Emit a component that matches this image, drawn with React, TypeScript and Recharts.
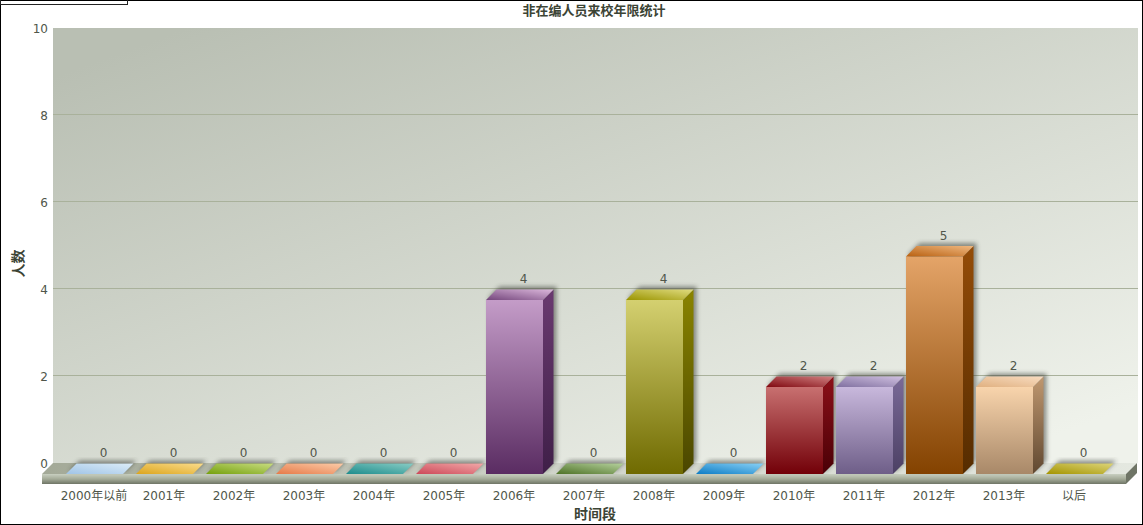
import React from 'react';
import { BarChart, Bar, XAxis, YAxis, CartesianGrid, LabelList, Cell } from 'recharts';

const categories = ['2000年以前','2001年','2002年','2003年','2004年','2005年','2006年','2007年','2008年','2009年','2010年','2011年','2012年','2013年','以后'];
const values = [0,0,0,0,0,0,4,0,4,0,2,2,5,2,0];
const yTicks = [0,2,4,6,8,10];
const title = '非在编人员来校年限统计';
const xTitle = '时间段';
const yTitle = '人数';

// palette: [front top, front bottom, side top, side bottom, top-face left, top-face right]
const palette = [
  ['#c8dcf0','#a8c8e8','#8ab0d8','#6a90b8','#a0c4e6','#dcecf8'],
  ['#f0c860','#e0a820','#c09020','#906810','#dca51c','#fbdc8c'],
  ['#a0c040','#78a010','#608010','#406008','#74a00c','#c8dc80'],
  ['#f8b080','#e88050','#c06030','#904020','#e67a48','#fbcba8'],
  ['#50b0a8','#209090','#107070','#085050','#1c8c8c','#88ccc4'],
  ['#e08088','#d05060','#a03040','#702030','#cc4858','#f2a8a8'],
  ['#c49cc8','#5a2c62','#6a3a70','#3f1f48','#74467c','#dcb8dc'],
  ['#80a060','#5c8030','#486828','#304818','#4e7226','#b4d09c'],
  ['#d4d070','#6f6a00','#8a8400','#4a4600','#9a9400','#e0dc80'],
  ['#40a0e0','#1080c8','#0860a0','#044878','#0c7cc4','#88d0f6'],
  ['#c87070','#720008','#8c1018','#4a0006','#800810','#d08080'],
  ['#c8b8dc','#6e5e88','#7a6a98','#4c4064','#8070a0','#d0c0e0'],
  ['#e4a468','#834200','#944c08','#552c00','#b86010','#f0b880'],
  ['#f8d4ac','#a88868','#c09870','#604830','#e0b080','#f8dcc0'],
  ['#c0b030','#a89800','#887800','#605800','#a49400','#dcd478'],
];

const rows = categories.map((name, i) => ({ name, value: values[i] }));

const D = 10.5;
const TXT = '#50564a';
const HEAD = '#3c4435';
const FONT = '"DejaVu Sans","Noto Sans CJK SC",sans-serif';
const CJK = '"Noto Sans CJK SC",sans-serif';

const Bar3D = (props: any) => {
  const { x, y, width, height, index } = props;
  const b = y + height;
  const r = x + width;
  const sil = `${x},${y} ${x + D},${y - D} ${r + D},${y - D} ${r + D},${b - D} ${r},${b} ${x},${b}`;
  return (
    <g>
      <polygon points={sil} transform="translate(3,-3)" fill="#2e3329" opacity={0.5} filter="url(#soft)" />
      {height > 0 && <rect x={x} y={y} width={width} height={height} fill={`url(#f${index})`} />}
      {height > 0 && <polygon points={`${r},${y} ${r + D},${y - D} ${r + D},${b - D} ${r},${b}`} fill={`url(#s${index})`} />}
      <polygon points={`${x},${y} ${x + D},${y - D} ${r + D},${y - D} ${r},${y}`} fill={`url(#t${index})`} />
    </g>
  );
};

const YTick = (props: any) => (
  <text x={48} y={props.y - D} dy={4} textAnchor="end" fontFamily={FONT} fontSize={12} fill={TXT}>{props.payload.value}</text>
);

const valueLabel = (props: any) => (
  <text x={props.x + props.width / 2 + 9} y={props.y - 21} dy={4} textAnchor="middle" fontFamily={FONT} fontSize={12} fill={TXT}>{props.value}</text>
);

const gridLine = (props: any) => (
  props.y1 > 40 && props.y1 < 470
    ? <line key={props.y1} x1={53} x2={1138} y1={props.y1 - 11.5} y2={props.y1 - 11.5} stroke="#a9b19b" strokeWidth={1} />
    : <g key={props.y1} />
);

export default function App() {
  return (
    <div style={{ position: 'absolute', left: 0, top: 0, width: 1143, height: 525, background: '#fff', overflow: 'hidden' }}>
      <BarChart width={1143} height={525} data={rows} barSize={57} margin={{ top: 39, right: 17, bottom: 0, left: 0 }}>
        <defs>
          <filter id="soft" x="-30%" y="-30%" width="160%" height="160%"><feGaussianBlur stdDeviation="2.2" /></filter>
          <linearGradient id="wall" gradientUnits="userSpaceOnUse" x1="100" y1="60" x2="335" y2="700">
            <stop offset="0" stopColor="#b9bfb3" />
            <stop offset="1" stopColor="#eff2eb" />
          </linearGradient>
          <linearGradient id="floorTop" x1="0" y1="0" x2="1" y2="0">
            <stop offset="0" stopColor="#a3a997" />
            <stop offset="0.45" stopColor="#cfd3c9" />
            <stop offset="1" stopColor="#e4e8e0" />
          </linearGradient>
          <linearGradient id="floorFront" x1="0" y1="0" x2="0" y2="1">
            <stop offset="0" stopColor="#c8cfc0" />
            <stop offset="0.5" stopColor="#a4ab98" />
            <stop offset="1" stopColor="#6f7566" />
          </linearGradient>
          {palette.map((p, i) => (
            <React.Fragment key={i}>
              <linearGradient id={`f${i}`} x1="0" y1="0" x2="0" y2="1"><stop offset="0" stopColor={p[0]} /><stop offset="1" stopColor={p[1]} /></linearGradient>
              <linearGradient id={`s${i}`} x1="0" y1="0" x2="0" y2="1"><stop offset="0" stopColor={p[2]} /><stop offset="1" stopColor={p[3]} /></linearGradient>
              <linearGradient id={`t${i}`} x1="0" y1="1" x2="1" y2="0"><stop offset="0" stopColor={p[4]} /><stop offset="1" stopColor={p[5]} /></linearGradient>
            </React.Fragment>
          ))}
        </defs>
        <CartesianGrid x={53} y={28} width={1085} height={435} fill="url(#wall)" fillOpacity={1} vertical={false} horizontal={gridLine as any} />
        <polygon points="42,474 53,463 1137,463 1126,474" fill="url(#floorTop)" />
        <rect x={42} y={474} width={1084} height={10} fill="url(#floorFront)" />
        <polygon points="1126,474 1137,463 1137,473 1126,484" fill="#6f7566" />
        <text x={594} y={15} textAnchor="middle" fontFamily={CJK} fontWeight="bold" fontSize={13} fill={HEAD}>{title}</text>
        <XAxis dataKey="name" interval={0} axisLine={false} tickLine={false} height={51} padding={{ left: 17, right: 17 }} tickMargin={11} tick={{ fontFamily: FONT, fontSize: 12, fill: TXT }}
          label={{ value: xTitle, position: 'insideBottom', offset: 6, dx: 11, fontFamily: CJK, fontWeight: 'bold', fontSize: 14, fill: HEAD }} />
        <YAxis type="number" domain={[0, 10]} ticks={yTicks} width={42} axisLine={false} tickLine={false} tick={YTick as any} interval={0}
          label={{ value: yTitle, angle: -90, position: 'insideLeft', offset: 18, dy: 21, fontFamily: CJK, fontWeight: 'bold', fontSize: 14, fill: HEAD }} />
        <Bar dataKey="value" isAnimationActive={false} shape={Bar3D as any}>
          {rows.map((r, i) => <Cell key={r.name} fill={palette[i][0]} />)}
          <LabelList dataKey="value" content={valueLabel as any} />
        </Bar>
        <rect x={0.5} y={0.5} width={1142} height={524} fill="none" stroke="#000" strokeWidth={1} />
        <rect x={0.5} y={-5} width={127} height={9.5} fill="none" stroke="#222" strokeWidth={1} />
      </BarChart>
    </div>
  );
}
